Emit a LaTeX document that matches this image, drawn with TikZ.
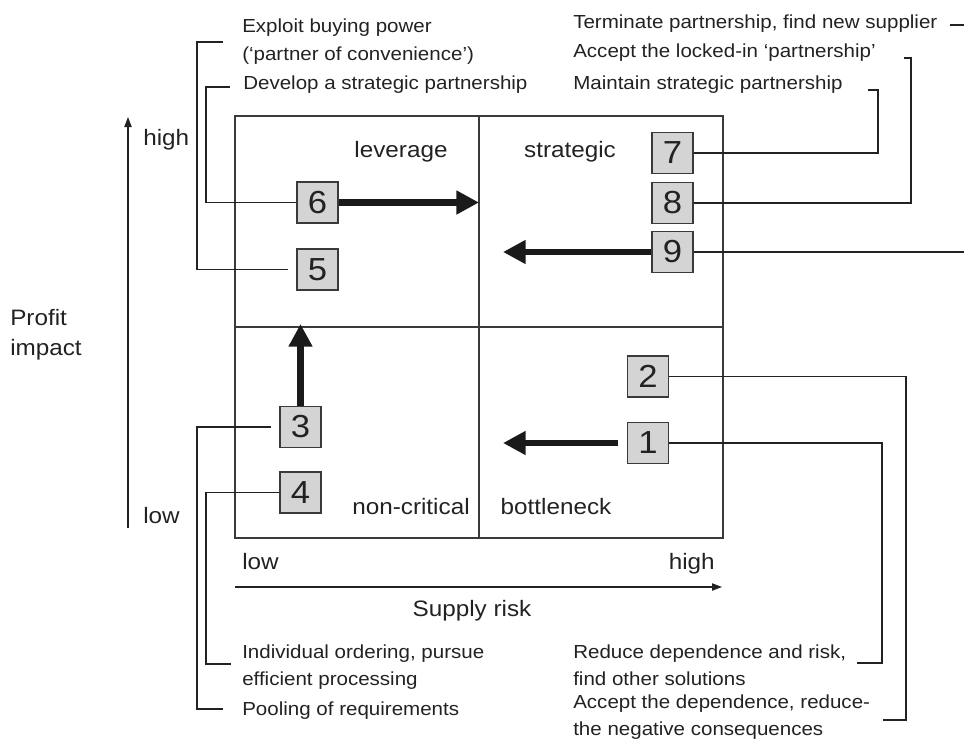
\documentclass[tikz,border=0pt]{standalone}
\usepackage{fontspec}
\setmainfont{Liberation Sans}
\usetikzlibrary{arrows.meta}
\definecolor{ink}{HTML}{222222}
\definecolor{rule}{HTML}{3A3A3A}
\definecolor{cell}{HTML}{D4D4D4}
\definecolor{heavy}{HTML}{1A1A1A}
% slightly condensed lettering
\newcommand\squish[1]{\scalebox{1}[0.92]{#1}}

\begin{document}
\begin{tikzpicture}[x=0.75pt,y=-0.75pt,
  note/.style={anchor=base west, inner sep=0pt, text=ink, font=\fontsize{15.4}{18}\selectfont},
  bigtxt/.style={inner sep=0pt, text=ink, font=\fontsize{18.2}{22}\selectfont},
  numbox/.style={draw=rule, fill=cell, line width=0.9pt, minimum width=30.75pt,
    minimum height=30.75pt, inner sep=0pt, text=ink, font=\fontsize{26}{26}\selectfont},
  link/.style={draw=ink, line width=0.8pt},
  push/.style={draw=heavy, line width=4.8pt, -{Triangle[length=17pt,width=17pt]}},
  axis/.style={draw=ink, line width=0.8pt, -{Triangle[length=7.5pt,width=5.5pt]}},
]
\useasboundingbox (0,0) rectangle (964,743);

% portfolio matrix
\draw[rule, line width=0.9pt] (235,116) rectangle (723,538);
\draw[rule, line width=0.9pt] (479,116) -- (479,538);
\draw[rule, line width=0.9pt] (235,327) -- (723,327);

% quadrant names
\node[bigtxt, anchor=base] (qlev) at (401,157) {\squish{leverage}};
\node[bigtxt, anchor=base] (qstr) at (570,157) {\squish{strategic}};
\node[bigtxt, anchor=base] (qnon) at (411,514) {\squish{non-critical}};
\node[bigtxt, anchor=base] (qbot) at (556,514) {\squish{bottleneck}};

% axes
\coordinate (ybot) at (128,528);
\coordinate (ytop) at (128,117);
\draw[axis] (ybot) -- (ytop);
\coordinate (xleft) at (235,587);
\coordinate (xright) at (722,587);
\draw[axis] (xleft) -- (xright);
\node[bigtxt, anchor=base west] (yhigh) at (143,145) {\squish{high}};
\node[bigtxt, anchor=base west] (ylow) at (143,523) {\squish{low}};
\node[bigtxt, anchor=base west] (yname1) at (10,325) {\squish{Profit}};
\node[bigtxt, anchor=base west] (yname2) at (10,355) {\squish{impact}};
\node[bigtxt, anchor=base west] (xlow) at (242,569) {\squish{low}};
\node[bigtxt, anchor=base east] (xhigh) at (715,569) {\squish{high}};
\node[bigtxt, anchor=base] (xname) at (472,616) {\squish{Supply risk}};

% numbered positions
\node[numbox] (b1) at (648,443) {\squish{1}};
\node[numbox] (b2) at (648,376.5) {\squish{2}};
\node[numbox] (b3) at (300.5,427) {\squish{3}};
\node[numbox] (b4) at (300.5,492.5) {\squish{4}};
\node[numbox] (b5) at (317.5,269.5) {\squish{5}};
\node[numbox] (b6) at (317.5,202.5) {\squish{6}};
\node[numbox] (b7) at (672.5,153) {\squish{7}};
\node[numbox] (b8) at (672.5,203) {\squish{8}};
\node[numbox] (b9) at (672.5,252) {\squish{9}};

% movements between quadrants
\coordinate (h6) at (479,202.5);
\coordinate (h9) at (503,252);
\coordinate (h3) at (300.5,324);
\coordinate (h1) at (503,443);
\draw[push] (b6.east) -- (h6);
\draw[push] (b9.west) -- (h9);
\draw[push] (b3.north) -- (h3);
\draw[push] ([xshift=-6.5pt]b1.west) -- (h1);

% strategy texts
\node[note] (t5a) at (242,32) {\squish{Exploit buying power}};
\node[note] (t5b) at (242,60) {\squish{(‘partner of convenience’)}};
\node[note] (t6) at (243,89) {\squish{Develop a strategic partnership}};
\node[note] (t9) at (573,28) {\squish{Terminate partnership, find new supplier}};
\node[note] (t8) at (573,57) {\squish{Accept the locked-in ‘partnership’}};
\node[note] (t7) at (573,89) {\squish{Maintain strategic partnership}};
\node[note] (t4a) at (242,658) {\squish{Individual ordering, pursue}};
\node[note] (t4b) at (242,685) {\squish{efficient processing}};
\node[note] (t3) at (242,715) {\squish{Pooling of requirements}};
\node[note] (t1a) at (573,658) {\squish{Reduce dependence and risk,}};
\node[note] (t1b) at (573,685) {\squish{find other solutions}};
\node[note] (t2a) at (573,708) {\squish{Accept the dependence, reduce-}};
\node[note] (t2b) at (573,735) {\squish{the negative consequences}};

% leader lines from positions to their strategies
\coordinate (c5) at (197,42);  \coordinate (k5) at (223,42);
\coordinate (c6) at (206,87);  \coordinate (k6) at (230,87);
\coordinate (c7) at (878,90);  \coordinate (k7) at (868,90);
\coordinate (c8) at (911,58);  \coordinate (k8) at (904,58);
\coordinate (e9) at (964,252);
\coordinate (k9a) at (950,25); \coordinate (k9b) at (964,25);
\coordinate (c2) at (906,720); \coordinate (k2) at (883,720);
\coordinate (c1) at (882,663); \coordinate (k1) at (857,663);
\coordinate (c3) at (197,709); \coordinate (k3) at (223,709);
\coordinate (c4) at (206,664); \coordinate (k4) at (231,664);

\draw[link] ([xshift=-6.5pt]b5.west) -| (c5) -- (k5);
\draw[link] (b6.west) -| (c6) -- (k6);
\draw[link] (b7.east) -| (c7) -- (k7);
\draw[link] (b8.east) -| (c8) -- (k8);
\draw[link] (b9.east) -- (e9);
\draw[link] (k9a) -- (k9b);
\draw[link] (b2.east) -| (c2) -- (k2);
\draw[link] (b1.east) -| (c1) -- (k1);
\draw[link] ([xshift=-6.5pt]b3.west) -| (c3) -- (k3);
\draw[link] (b4.west) -| (c4) -- (k4);
\end{tikzpicture}
\end{document}
